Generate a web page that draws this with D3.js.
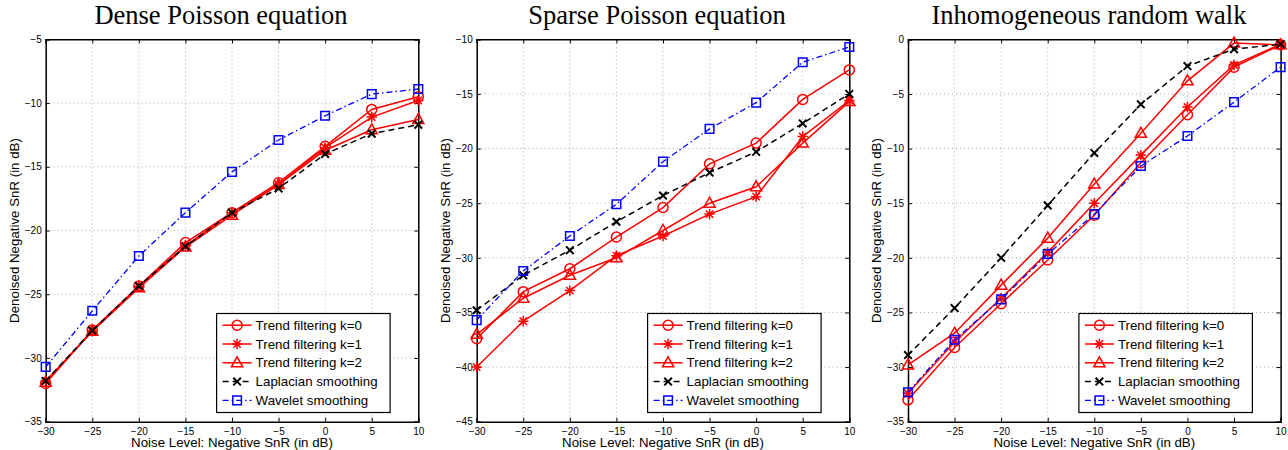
<!DOCTYPE html>
<html>
<head>
<meta charset="utf-8">
<script src="https://cdn.jsdelivr.net/npm/d3@7"></script>
<style>
  body { margin: 0; background: #fff; }
  text { font-family: "Liberation Sans", Arial, sans-serif; }
  text.title { font-family: "Liberation Serif", "Times New Roman", serif; }
</style>
</head>
<body>
<svg id="chart" width="1288" height="450"></svg>
<script>
// noise levels on the x axis (in dB)
const noiseLevels = [-30, -25, -20, -15, -10, -5, 0, 5, 10];
const seriesNames = ['Trend filtering k=0', 'Trend filtering k=1', 'Trend filtering k=2',
                     'Laplacian smoothing', 'Wavelet smoothing'];
const panelTitles = ['Dense Poisson equation', 'Sparse Poisson equation', 'Inhomogeneous random walk'];
const yDomains = [[-35, -5], [-45, -10], [-35, 0]];

// Dense Poisson equation
const denseTF0 = [-32.0, -27.8, -24.35, -20.95, -18.6, -16.25, -13.4, -10.5, -9.5];
const denseTF1 = [-31.8, -27.9, -24.4, -21.2, -18.6, -16.4, -13.5, -11.1, -9.8];
const denseTF2 = [-31.9, -27.9, -24.5, -21.3, -18.8, -16.4, -13.7, -12.1, -11.3];
const denseLap = [-31.8, -27.85, -24.35, -21.25, -18.6, -16.7, -14.0, -12.4, -11.7];
const denseWav = [-30.7, -26.3, -22.0, -18.6, -15.4, -12.9, -11.0, -9.3, -8.9];

// Sparse Poisson equation
const sparseTF0 = [-37.4, -33.1, -31.0, -28.1, -25.4, -21.4, -19.5, -15.5, -12.8];
const sparseTF1 = [-40.0, -35.8, -33.0, -29.8, -28.0, -26.0, -24.4, -18.9, -15.6];
const sparseTF2 = [-37.0, -33.7, -31.6, -30.0, -27.5, -25.0, -23.5, -19.5, -15.7];
const sparseLap = [-34.8, -31.6, -29.3, -26.7, -24.3, -22.2, -20.3, -17.7, -15.0];
const sparseWav = [-35.7, -31.2, -28.0, -25.1, -21.2, -18.2, -15.8, -12.1, -10.7];

// Inhomogeneous random walk
const walkTF0 = [-33.0, -28.2, -24.2, -20.2, -16.1, -11.3, -6.9, -2.55, -0.5];
const walkTF1 = [-32.4, -27.7, -23.7, -19.5, -15.0, -10.6, -6.2, -2.35, -0.45];
const walkTF2 = [-29.8, -26.9, -22.5, -18.2, -13.25, -8.6, -3.8, -0.35, -0.5];
const walkLap = [-28.9, -24.6, -20.0, -15.2, -10.4, -5.95, -2.45, -0.9, -0.45];
const walkWav = [-32.3, -27.5, -23.8, -19.65, -16.0, -11.6, -8.85, -5.75, -2.55];

const panelData = [
  [denseTF0, denseTF1, denseTF2, denseLap, denseWav],
  [sparseTF0, sparseTF1, sparseTF2, sparseLap, sparseWav],
  [walkTF0, walkTF1, walkTF2, walkLap, walkWav]
];

// line / marker styles per series
const styles = [
  {color: '#ff0000', dash: null, width: 1.5, marker: 'circle'},
  {color: '#ff0000', dash: null, width: 1.5, marker: 'asterisk'},
  {color: '#ff0000', dash: null, width: 1.5, marker: 'triangle'},
  {color: '#000000', dash: '6,4', width: 1.5, marker: 'x'},
  {color: '#0000ff', dash: '6,3,1.5,3', width: 1.3, marker: 'square'}
];

const svg = d3.select('#chart');
const panelLefts = [45.7, 476.7, 908];
const titleCenters = [221, 657, 1089];
const plotW = 372.6, plotTop = 39.3, plotBottom = 421.7;

function markerPath(type) {
  const p = d3.path();
  if (type === 'circle') {
    p.moveTo(5, 0); p.arc(0, 0, 5, 0, 2 * Math.PI);
  } else if (type === 'asterisk') {
    const a = 5.2, d = a * 0.707;
    p.moveTo(-a, 0); p.lineTo(a, 0);
    p.moveTo(0, -a); p.lineTo(0, a);
    p.moveTo(-d, -d); p.lineTo(d, d);
    p.moveTo(-d, d); p.lineTo(d, -d);
  } else if (type === 'triangle') {
    p.moveTo(0, -6); p.lineTo(5.6, 4); p.lineTo(-5.6, 4); p.closePath();
  } else if (type === 'x') {
    const a = 3.8;
    p.moveTo(-a, -a); p.lineTo(a, a);
    p.moveTo(-a, a); p.lineTo(a, -a);
  } else if (type === 'square') {
    p.rect(-4.3, -4.3, 8.6, 8.6);
  }
  return p.toString();
}

panelTitles.forEach((title, pi) => {
  const left = panelLefts[pi];
  const x = d3.scaleLinear().domain([-30, 10]).range([left, left + plotW]);
  const y = d3.scaleLinear().domain(yDomains[pi]).range([plotBottom, plotTop]);
  const g = svg.append('g');
  const xTicks = d3.range(-30, 11, 5);
  const yTicks = d3.range(yDomains[pi][0], yDomains[pi][1] + 1, 5);

  // dotted grid
  g.append('g').selectAll('line')
    .data(xTicks.slice(1, -1))
    .join('line')
      .attr('x1', d => x(d)).attr('x2', d => x(d))
      .attr('y1', plotTop).attr('y2', plotBottom)
      .attr('stroke', '#999').attr('stroke-width', 0.8)
      .attr('stroke-dasharray', '1,3');
  g.append('g').selectAll('line')
    .data(yTicks.slice(1, -1))
    .join('line')
      .attr('x1', left).attr('x2', left + plotW)
      .attr('y1', d => y(d)).attr('y2', d => y(d))
      .attr('stroke', '#999').attr('stroke-width', 0.8)
      .attr('stroke-dasharray', '1,3');

  // axes with inward ticks, box on
  const fmt = d3.format('');
  const xAxis = g.append('g').attr('transform', `translate(0,${plotBottom})`)
    .call(d3.axisBottom(x).tickValues(xTicks).tickSize(-4).tickPadding(5).tickFormat(fmt));
  const xAxisTop = g.append('g').attr('transform', `translate(0,${plotTop})`)
    .call(d3.axisTop(x).tickValues(xTicks).tickSize(-4).tickFormat(''));
  const yAxis = g.append('g').attr('transform', `translate(${left},0)`)
    .call(d3.axisLeft(y).tickValues(yTicks).tickSize(-4).tickPadding(4).tickFormat(fmt));
  const yAxisR = g.append('g').attr('transform', `translate(${left + plotW},0)`)
    .call(d3.axisRight(y).tickValues(yTicks).tickSize(-4).tickFormat(''));
  [xAxis, xAxisTop, yAxis, yAxisR].forEach(a => {
    a.select('.domain').attr('stroke', '#000').attr('stroke-width', 1.5);
    a.selectAll('.tick line').attr('stroke', '#000');
    a.selectAll('.tick text').attr('font-size', 10).attr('fill', '#000');
  });
  xAxis.selectAll('.tick text').attr('dy', '0.85em');

  // series
  panelData[pi].forEach((vals, si) => {
    const st = styles[si];
    const pts = vals.map((v, i) => [x(noiseLevels[i]), y(v)]);
    g.append('path')
      .attr('d', d3.line()(pts))
      .attr('fill', 'none')
      .attr('stroke', st.color)
      .attr('stroke-width', st.width)
      .attr('stroke-dasharray', st.dash);
    g.append('g').selectAll('path')
      .data(pts)
      .join('path')
        .attr('transform', d => `translate(${d[0]},${d[1]})`)
        .attr('d', markerPath(st.marker))
        .attr('fill', 'none')
        .attr('stroke', st.color)
        .attr('stroke-width', st.marker === 'x' ? 2 : 1.5);
  });

  // title and axis labels
  svg.append('text')
    .attr('class', 'title')
    .attr('x', titleCenters[pi]).attr('y', 24)
    .attr('text-anchor', 'middle')
    .attr('font-size', 26.5)
    .text(title);
  svg.append('text')
    .attr('x', left + plotW / 2).attr('y', 447)
    .attr('text-anchor', 'middle')
    .attr('font-size', 13.3)
    .text('Noise Level: Negative SnR (in dB)');
  svg.append('text')
    .attr('transform', `translate(${left - 27},${(plotTop + plotBottom) / 2}) rotate(-90)`)
    .attr('text-anchor', 'middle')
    .attr('font-size', 13.3)
    .text('Denoised Negative SnR (in dB)');

  // legend
  const legW = 173.5, legH = 99, legX = left + plotW - 28.2 - legW, legY = 313.5;
  const leg = svg.append('g').attr('transform', `translate(${legX},${legY})`);
  leg.append('rect')
    .attr('width', legW).attr('height', legH)
    .attr('fill', '#fff').attr('stroke', '#000').attr('stroke-width', 1.2);
  seriesNames.forEach((name, si) => {
    const st = styles[si];
    const ry = 11.7 + si * 18.8;
    leg.append('line')
      .attr('x1', 6).attr('x2', 35).attr('y1', ry).attr('y2', ry)
      .attr('stroke', st.color).attr('stroke-width', st.width)
      .attr('stroke-dasharray', st.dash);
    leg.append('path')
      .attr('transform', `translate(20.5,${ry})`)
      .attr('d', markerPath(st.marker))
      .attr('fill', 'none').attr('stroke', st.color)
      .attr('stroke-width', st.marker === 'x' ? 2 : 1.5);
    leg.append('text')
      .attr('x', 39).attr('y', ry).attr('dy', '0.35em')
      .attr('font-size', 13.3)
      .text(name);
  });
});
</script>
</body>
</html>
